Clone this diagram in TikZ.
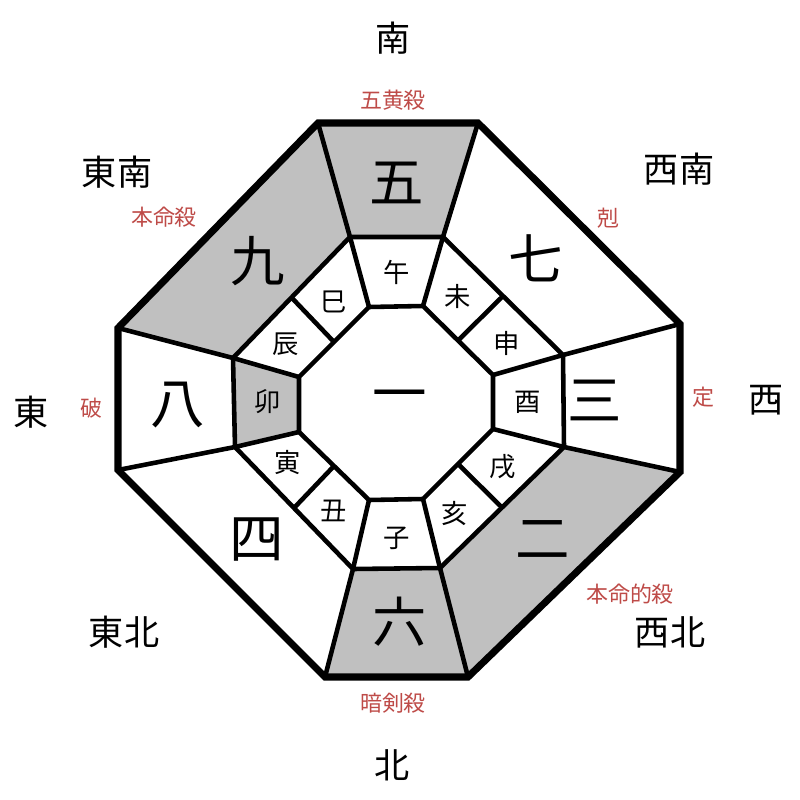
\documentclass[tikz,border=0pt]{standalone}
\usepackage{fontspec}
\newfontfamily\jpfont{Noto Sans CJK JP}
\usepackage{tikz}
\usetikzlibrary{calc}
\definecolor{shadec}{HTML}{C0C0C0}
\definecolor{notec}{HTML}{BE4B48}
\tikzset{
  wall/.style={line width=4pt,line join=miter},
  cell/.style={line width=2.6pt,line join=miter},
  numtxt/.style={font=\jpfont\fontsize{31}{31}\selectfont,inner sep=0pt},
  branchtxt/.style={font=\jpfont\fontsize{15}{15}\selectfont,inner sep=0pt},
  dirtxt/.style={font=\jpfont\fontsize{20}{20}\selectfont,inner sep=0pt},
  notetxt/.style={font=\jpfont\fontsize{12.5}{12.5}\selectfont,notec,inner sep=0pt}
}

\begin{document}
\begin{tikzpicture}[x=0.02cm,y=-0.02cm]
\useasboundingbox (0,0) rectangle (800,800);
% corners: outer, middle, inner
\foreach \n/\x/\y in {o1/318/123,o2/478/123,o3/680/324,o4/680/472,o5/468/677,o6/325/677,o7/118/470,o8/118/328,
  m1/350/237,m2/443/237,m3/563/355,m4/564/447,m5/440/568,m6/353/569,m7/235/447,m8/233/358,
  i1/369/307,i2/423/306,i3/493/375,i4/493/429,i5/423/499,i6/369/500,i7/299/432,i8/299/377}
  \coordinate (\n) at (\x,\y);
% shaded cells
\fill[shadec] (o1)--(o2)--(m2)--(m1)--cycle;
\fill[shadec] (o8)--(o1)--(m1)--(m8)--cycle;
\fill[shadec] (o4)--(o5)--(m5)--(m4)--cycle;
\fill[shadec] (o5)--(o6)--(m6)--(m5)--cycle;
\fill[shadec] (m8)--(i8)--(i7)--(m7)--cycle;
% grid
\draw[cell] (m1)--(m2)--(m3)--(m4)--(m5)--(m6)--(m7)--(m8)--cycle;
\draw[cell] (i1)--(i2)--(i3)--(i4)--(i5)--(i6)--(i7)--(i8)--cycle;
\foreach \k in {1,...,8} \draw[cell] (o\k)--(m\k)--(i\k);
\foreach \a/\b in {2/3,4/5,6/7,8/1}
  \draw[cell] ($(i\a)!0.5!(i\b)$)--($(m\a)!0.5!(m\b)$);
\draw[wall] (o1)--(o2)--(o3)--(o4)--(o5)--(o6)--(o7)--(o8)--cycle;
% stars
\foreach \t/\x/\y/\n in {一/400/402/s1,二/543/540/s2,三/595/400/s3,四/257/540/s4,五/397/183/s5,
  六/400/622/s6,七/536/258/s7,八/178/405/s8,九/258/261/s9}
  \node[numtxt] (\n) at (\x,\y) {\t};
% branches
\foreach \t/\x/\y/\n in {子/397/538/bzi,丑/334/511/bchou,寅/288/463/byin,卯/268/402/bmao,
  辰/286/344/bchen,巳/334/302/bsi,午/397/272/bwu,未/458/296/bwei,
  申/507/343/bshen,酉/528/402/byou,戌/503/467/bxu,亥/455/513/bhai}
  \node[branchtxt] (\n) at (\x,\y) {\t};
% directions
\foreach \t/\x/\y/\n in {南/393/38/dS,北/392/765/dN,東/31/412/dE,西/766/400/dW,
  東南/117/172/dSE,西南/679/169/dSW,東北/124/632/dNE,西北/670/632/dNW}
  \node[dirtxt] (\n) at (\x,\y) {\t};
% notes
\foreach \t/\x/\y/\n in {五黄殺/393/100/gohou,暗剣殺/393/703/anken,本命殺/164/217/honmei,
  本命的殺/630/594/honmeiteki,剋/608/218/koku,破/91/408/ha,定/703/397/tei}
  \node[notetxt] (\n) at (\x,\y) {\t};
\end{tikzpicture}
\end{document}
